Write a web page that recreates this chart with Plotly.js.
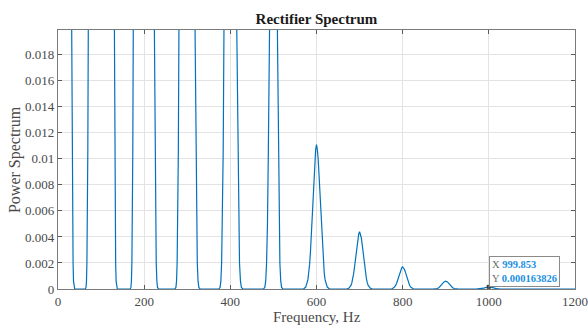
<!DOCTYPE html>
<html>
<head>
<meta charset="utf-8">
<script src="https://cdn.plot.ly/plotly-3.0.1.min.js"></script>
<style>html,body{margin:0;padding:0;background:#fff;}#chart{width:588px;height:325px;}</style>
</head>
<body>
<div id="chart"></div>
<script>
// Spectrum curve (Hz, power). Peaks at 0..500 Hz run off the top.
const curveHz = [
  0, 30.5, 31.8, 32.9, 34, 35, 36, 37.1, 38.7, 40,
  59, 63.4, 65, 66.1, 67.1, 68.2, 69.2, 70.3, 71.6,
  100, 129.3, 130.6, 131.7, 132.8, 133.8, 134.9, 136, 137.6, 139,
  166, 167.7, 169.3, 170.4, 171.5, 172.5, 173.6, 174.7, 176,
  200, 221.3, 223.5, 225, 226.5, 228, 229.5, 231, 233.3, 235,
  270, 271.6, 273.7, 275.1, 276.5, 277.9, 279.3, 280.7, 282.8,
  300, 315.2, 317.9, 319.7, 321.5, 323.3, 325.1, 326.9, 329.6, 332,
  371, 373.5, 376.2, 378, 379.8, 381.6, 383.4, 385.2, 387.9,
  400, 411.4, 414.7, 416.9, 419.1, 421.3, 423.5, 425.7, 429, 432,
  476, 476.9, 480, 482.1, 484.1, 486.2, 488.2, 490.3, 493.4,
  500, 506, 509, 511, 513, 515, 517, 519, 522, 525,
  570, 575, 580, 582, 584, 586, 588, 590, 592, 594, 596, 598,
  600, 602, 604, 606, 608, 610, 612, 614, 616, 618, 620, 625, 630,
  670, 675, 680, 682, 684, 686, 688, 690, 692, 694, 696, 698,
  700, 702, 704, 706, 708, 710, 712, 714, 716, 718, 720, 725, 730,
  770, 775, 780, 782, 784, 786, 788, 790, 792, 794, 796, 798,
  800, 802, 804, 806, 808, 810, 812, 814, 816, 818, 820, 825, 830,
  870, 875, 880, 884, 888, 892, 896,
  900, 904, 908, 912, 916, 920, 925, 930,
  970, 975, 980, 984, 988, 992, 996,
  1000, 1004, 1008, 1012, 1016, 1020, 1025, 1030,
  1200
];
const curvePower = [
  0.05, 0.03, 0.0199, 0.0105, 0.005, 0.002, 0.0006, 0.00012, 0.00001, 0,
  0, 0.00001, 0.00012, 0.0006, 0.002, 0.005, 0.0105, 0.0199, 0.03,
  0.05, 0.03, 0.0199, 0.0105, 0.005, 0.002, 0.0006, 0.00012, 0.00001, 0,
  0, 0.00001, 0.00012, 0.0006, 0.002, 0.005, 0.0105, 0.0199, 0.03,
  0.05, 0.03, 0.0199, 0.0105, 0.005, 0.002, 0.0006, 0.00012, 0.00001, 0,
  0, 0.00001, 0.00012, 0.0006, 0.002, 0.005, 0.0105, 0.0199, 0.03,
  0.05, 0.03, 0.0199, 0.0105, 0.005, 0.002, 0.0006, 0.00012, 0.00001, 0,
  0, 0.00001, 0.00012, 0.0006, 0.002, 0.005, 0.0105, 0.0199, 0.03,
  0.05, 0.03, 0.0199, 0.0105, 0.005, 0.002, 0.0006, 0.00012, 0.00001, 0,
  0, 0.00001, 0.00012, 0.0006, 0.002, 0.005, 0.0105, 0.0199, 0.03,
  0.05, 0.03, 0.0199, 0.0105, 0.005, 0.002, 0.0006, 0.00012, 0.00001, 0,
  0, 0.00015, 0.0007, 0.00119, 0.00189, 0.00288, 0.0041, 0.00556, 0.00713, 0.00866, 0.00993, 0.0107,
  0.0111, 0.0107, 0.00993, 0.00866, 0.00713, 0.00556, 0.0041, 0.00288, 0.00189, 0.00119, 0.0007, 0.00015, 0,
  0, 0.00006, 0.00028, 0.00047, 0.00075, 0.00114, 0.00162, 0.0022, 0.00283, 0.00343, 0.00394, 0.00424,
  0.0044, 0.00424, 0.00394, 0.00343, 0.00283, 0.0022, 0.00162, 0.00114, 0.00075, 0.00047, 0.00028, 0.00006, 0,
  0, 0.00002, 0.00011, 0.00018, 0.00029, 0.00044, 0.00063, 0.00085, 0.00109, 0.00133, 0.00152, 0.00164,
  0.0017, 0.00164, 0.00152, 0.00133, 0.00109, 0.00085, 0.00063, 0.00044, 0.00029, 0.00018, 0.00011, 0.00002, 0,
  0, 0.000008, 0.000038, 0.0001, 0.00022, 0.00039, 0.00054,
  0.0006, 0.00054, 0.00039, 0.00022, 0.0001, 0.000038, 0.000008, 0,
  0, 0.000002, 0.00001, 0.000028, 0.00006, 0.000105, 0.000147,
  0.000164, 0.000147, 0.000105, 0.00006, 0.000028, 0.00001, 0.000002, 0,
  0
];
// Data tip shown on the chart
const tipHz = [999.853];
const tipPower = [0.000163826];
const tipText = ['<span style="color:#6b6b6b">X</span> <b>999.853</b><br><span style="color:#6b6b6b">Y</span> <b>0.000163826</b>'];

const xTicks = [0, 200, 400, 600, 800, 1000, 1200];
const yTicks = [0, 0.002, 0.004, 0.006, 0.008, 0.01, 0.012, 0.014, 0.016, 0.018];

const serif = '"Liberation Serif", "Times New Roman", serif';
const axisCommon = {
  showline: true, mirror: 'ticks', linecolor: '#7a7a7a', linewidth: 1.2,
  ticks: 'inside', ticklen: 4, tickcolor: '#5a5a5a', tickwidth: 1,
  showgrid: true, gridcolor: '#e3e3e3', gridwidth: 1,
  zeroline: false, automargin: false,
  tickfont: {family: serif, size: 13, color: '#4a4a4a'}
};

const traces = [
  {x: curveHz, y: curvePower, type: 'scatter', mode: 'lines',
   line: {color: '#0072BD', width: 1.2, shape: 'linear'}, hoverinfo: 'skip'},
  {x: tipHz, y: tipPower, type: 'scatter', mode: 'markers',
   marker: {symbol: 'square', size: 4, color: '#3a3a3a'}, hoverinfo: 'skip', cliponaxis: false}
];

const layout = {
  width: 588, height: 325,
  margin: {l: 58, r: 13, t: 30, b: 36},
  paper_bgcolor: '#ffffff', plot_bgcolor: '#ffffff',
  showlegend: false,
  title: {text: '<b>Rectifier Spectrum</b>', font: {family: serif, size: 15, color: '#1a1a1a'},
          x: 0.5, xref: 'paper', xanchor: 'center', y: 0.942, yref: 'container', yanchor: 'middle'},
  xaxis: Object.assign({}, axisCommon, {
    range: [0, 1200], tickvals: xTicks, ticktext: xTicks.map(String)
  }),
  yaxis: Object.assign({}, axisCommon, {
    range: [0, 0.0199], tickvals: yTicks, ticktext: yTicks.map(String)
  }),
  annotations: [
    {x: 0.5, y: -0.1073, xref: 'paper', yref: 'paper', text: 'Frequency, Hz',
     showarrow: false, xanchor: 'center', yanchor: 'middle',
     font: {family: serif, size: 15, color: '#4a4a4a'}},
    {x: -0.084, y: 0.5, xref: 'paper', yref: 'paper', text: 'Power Spectrum', textangle: -90,
     showarrow: false, xanchor: 'center', yanchor: 'middle',
     font: {family: serif, size: 16, color: '#4a4a4a'}},
    {x: tipHz[0], y: tipPower[0], xref: 'x', yref: 'y', text: tipText[0],
     showarrow: false, xanchor: 'left', yanchor: 'bottom', align: 'left',
     font: {family: serif, size: 10.5, color: '#1a8fe3'},
     bgcolor: 'rgba(255,255,255,0.95)', bordercolor: '#8a8a8a', borderwidth: 1, borderpad: 2}
  ]
};

Plotly.newPlot('chart', traces, layout, {staticPlot: true, displayModeBar: false});
</script>
</body>
</html>
